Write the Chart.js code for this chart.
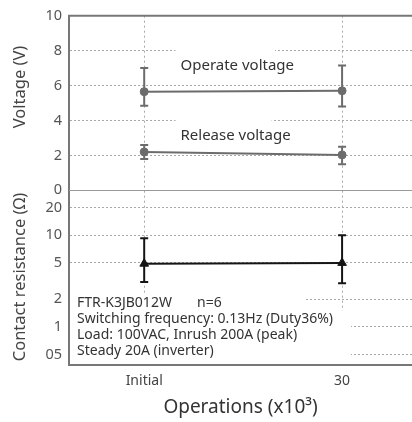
<!DOCTYPE html>
<html>
<head>
<meta charset="utf-8">
<script src="https://cdn.jsdelivr.net/npm/chart.js@4.4.0/dist/chart.umd.min.js"></script>
<style>
  html, body { margin: 0; padding: 0; background: #fff; }
</style>
</head>
<body>
<canvas id="chart" width="412" height="422"></canvas>
<script>
// Data
const categories = ["Initial", "30"];
const operations = [0, 30];

const operateMean = [5.65, 5.7];
const operateLow = [4.85, 4.8];
const operateHigh = [7.0, 7.15];

const releaseMean = [2.2, 2.03];
const releaseLow = [1.8, 1.5];
const releaseHigh = [2.6, 2.5];

const resistMean = [4.9, 5.0];
const resistLow = [3.1, 3.0];
const resistHigh = [9.3, 10];

const voltageTicks = [0, 2, 4, 6, 8, 10];
const resistTicks = [0.5, 1, 2, 5, 10, 20];
const resistTickLabels = ["05", "1", "2", "5", "10", "20"];

const noteLines = [
  "Switching frequency: 0.13Hz (Duty36%)",
  "Load: 100VAC, Inrush 200A (peak)",
  "Steady 20A (inverter)",
];

const FONT = "'Noto Sans', sans-serif";
const GRAY = "#6c6c6c";
const BLACK = "#151515";
const GRID = "#a8a8a8";
const FRAME = "#777";

function points(values) {
  return operations.map((x, i) => ({ x: x, y: values[i] }));
}

// one small line dataset per error bar, caps drawn as 'line' points
function errorBars(lows, highs, axis, color) {
  return operations.map((x, i) => ({
    yAxisID: axis,
    data: [{ x: x, y: lows[i] }, { x: x, y: highs[i] }],
    borderColor: color,
    borderWidth: 2,
    pointStyle: "line",
    pointRadius: 4,
    pointBorderWidth: 2,
    pointBorderColor: color,
    pointHoverRadius: 4,
  }));
}

function series(values, axis, color, style, radius) {
  return {
    yAxisID: axis,
    data: points(values),
    borderColor: color,
    borderWidth: 2,
    pointStyle: style,
    pointRadius: radius,
    pointBackgroundColor: color,
    pointBorderColor: color,
    pointBorderWidth: 1,
  };
}

const overlay = {
  id: "overlay",
  beforeDatasetsDraw(chart) {
    const { ctx, chartArea: a } = chart;
    const x = chart.scales.x;
    const yV = chart.scales.yV;
    ctx.save();

    // zero line between the two panels
    ctx.strokeStyle = "#999";
    ctx.lineWidth = 1;
    ctx.beginPath();
    ctx.moveTo(a.left, Math.round(yV.bottom) + 0.5);
    ctx.lineTo(a.right, Math.round(yV.bottom) + 0.5);
    ctx.stroke();

    // curve labels with white backing
    ctx.font = "15px " + FONT;
    ctx.textBaseline = "middle";
    [["Operate voltage", 7.15], ["Release voltage", 3.15]].forEach(([txt, v]) => {
      const tx = x.getPixelForValue(5.5);
      const ty = yV.getPixelForValue(v);
      const w = ctx.measureText(txt).width;
      ctx.fillStyle = "#fff";
      ctx.fillRect(tx - 7, ty - 8, w + 13, 16);
      ctx.fillRect(tx - 5, ty - 20, w - 14, 12);
      ctx.fillStyle = "#333";
      ctx.fillText(txt, tx, ty);
    });

    // condition note in the lower panel
    ctx.fillStyle = "#fff";
    ctx.fillRect(a.left + 1, 294, 236, 18);
    ctx.fillRect(a.left + 1, 311, 281, a.bottom - 312);
    ctx.fillStyle = "#333";
    ctx.font = "14px " + FONT;
    ctx.fillText("FTR-K3JB012W", 77, 303);
    ctx.fillText("n=6", 197, 303);
    noteLines.forEach((t, i) => ctx.fillText(t, 77, 319 + i * 16));
    ctx.restore();
  },
  afterDraw(chart) {
    const { ctx, chartArea: a } = chart;
    ctx.save();
    ctx.strokeStyle = FRAME;
    ctx.lineWidth = 2;
    ctx.beginPath();
    ctx.moveTo(a.left - 1, a.top);
    ctx.lineTo(a.right, a.top);
    ctx.stroke();

    ctx.fillStyle = "#444";
    ctx.font = "16.5px " + FONT;
    ctx.textAlign = "center";
    ctx.textBaseline = "middle";
    [["Voltage (V)", 87], ["Contact resistance (\u03A9)", 277]].forEach(([t, cy]) => {
      ctx.save();
      ctx.translate(20, cy);
      ctx.rotate(-Math.PI / 2);
      ctx.fillText(t, 0, 0);
      ctx.restore();
    });
    ctx.restore();
  },
};

new Chart(document.getElementById("chart"), {
  type: "line",
  data: {
    datasets: [
      ...errorBars(operateLow, operateHigh, "yV", GRAY),
      ...errorBars(releaseLow, releaseHigh, "yV", GRAY),
      ...errorBars(resistLow, resistHigh, "yR", BLACK),
      series(operateMean, "yV", GRAY, "circle", 4),
      series(releaseMean, "yV", GRAY, "circle", 4),
      series(resistMean, "yR", BLACK, "triangle", 5),
    ],
  },
  options: {
    responsive: false,
    animation: false,
    layout: { autoPadding: false, padding: { top: 12, left: 0, right: 0, bottom: 0 } },
    plugins: { legend: { display: false }, tooltip: { enabled: false } },
    scales: {
      x: {
        type: "linear",
        min: -11.4,
        max: 40.6,
        afterBuildTicks: (s) => { s.ticks = operations.map((v) => ({ value: v })); },
        afterFit: (s) => { s.height = 57; },
        ticks: {
          callback: (v) => categories[operations.indexOf(v)],
          font: { family: FONT, size: 14 },
          color: "#444",
          padding: 8,
          maxRotation: 0,
        },
        grid: { color: GRID, drawTicks: false },
        border: { display: true, color: FRAME, width: 2, dash: [2, 3] },
        title: {
          display: true,
          text: "Operations (x10\u00B3)",
          font: { family: FONT, size: 19 },
          color: "#333",
          padding: { top: 0, bottom: 3 },
        },
      },
      yR: {
        type: "logarithmic",
        position: "left",
        stack: "panels",
        stackWeight: 1,
        min: 0.383,
        max: 31,
        bounds: "data",
        afterBuildTicks: (s) => { s.ticks = resistTicks.map((v) => ({ value: v })); },
        afterFit: (s) => { s.width = 69; },
        ticks: {
          callback: (v) => resistTickLabels[resistTicks.indexOf(v)],
          font: { family: FONT, size: 14.5 },
          color: "#555",
          padding: 7,
        },
        grid: { color: GRID, drawTicks: false },
        border: { display: true, color: FRAME, width: 2, dash: [2, 2] },
      },
      yV: {
        type: "linear",
        position: "left",
        stack: "panels",
        stackWeight: 1,
        min: 0,
        max: 10,
        afterBuildTicks: (s) => {
          s.ticks = [];
          for (let v = 0; v <= 10; v++) s.ticks.push({ value: v });
        },
        afterFit: (s) => { s.width = 69; },
        ticks: {
          callback: (v) => (voltageTicks.includes(v) ? String(v) : ""),
          font: { family: FONT, size: 14.5 },
          color: "#555",
          padding: 7,
        },
        grid: { color: GRID, drawTicks: false },
        border: { display: true, color: FRAME, width: 2, dash: [2, 2] },
      },
    },
  },
  plugins: [overlay],
});
</script>
</body>
</html>
